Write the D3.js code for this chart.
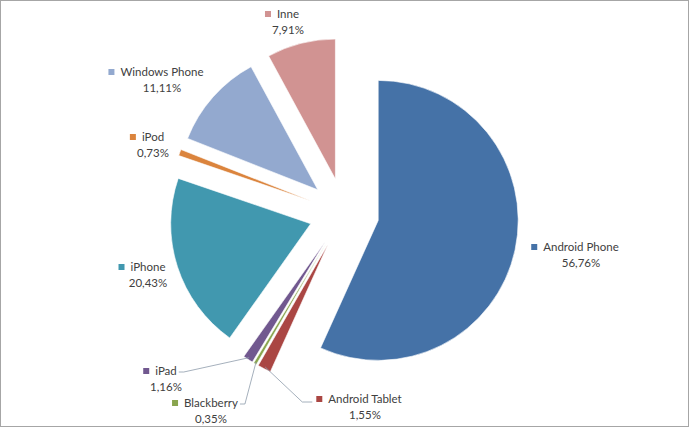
<!DOCTYPE html>
<html>
<head>
<meta charset="utf-8">
<script src="https://cdn.jsdelivr.net/npm/d3@7"></script>
<style>
  body { margin: 0; background: #fff; }
  svg { display: block; }
  text { font-family: Lato, "Open Sans", sans-serif; font-size: 11.5px; fill: #404040; }
</style>
</head>
<body>
<div id="chart"></div>
<script>
const categories = ["Android Phone", "Android Tablet", "Blackberry", "iPad", "iPhone", "iPod", "Windows Phone", "Inne"];
const values = [56.76, 1.55, 0.35, 1.16, 20.43, 0.73, 11.11, 7.91];
const percentLabels = ["56,76%", "1,55%", "0,35%", "1,16%", "20,43%", "0,73%", "11,11%", "7,91%"];
const colors = ["#4572A7", "#AA4643", "#89A54E", "#71588F", "#4198AF", "#DB843D", "#93A9CF", "#D19392"];

// where each label block sits (centre x, y of the name line) and which ones get a leader line
const labelLayout = {
    "Android Phone": { x: 581, y: 247 },
    "Android Tablet": { x: 365, y: 399, leader: "left" },
    "Blackberry": { x: 211, y: 403, leader: "right" },
    "iPad": { x: 166, y: 371, leader: "right" },
    "iPhone": { x: 148, y: 267 },
    "iPod": { x: 153, y: 137 },
    "Windows Phone": { x: 162, y: 72 },
    "Inne": { x: 288, y: 14 }
};

const width = 690, height = 428;
const cx = 344, cy = 213, radius = 140, explode = 35;

const svg = d3.select("#chart").append("svg")
    .attr("width", width)
    .attr("height", height);

svg.append("rect")
    .attr("x", 0.5).attr("y", 0.5)
    .attr("width", 688).attr("height", 426)
    .attr("fill", "#fff")
    .attr("stroke", "#a6a6a6");

const data = categories.map((c, i) => ({ name: c, value: values[i], label: percentLabels[i], color: colors[i] }));

const pie = d3.pie().value(d => d.value).sort(null);
const arc = d3.arc().innerRadius(0).outerRadius(radius);
const arcs = pie(data);

function offset(d, dist) {
    const a = (d.startAngle + d.endAngle) / 2;
    return [Math.sin(a) * dist, -Math.cos(a) * dist];
}

const g = svg.append("g").attr("transform", `translate(${cx},${cy})`);

g.selectAll("path.slice")
    .data(arcs)
    .enter().append("path")
    .attr("class", "slice")
    .attr("d", arc)
    .attr("fill", d => d.data.color)
    .attr("stroke", "#fff")
    .attr("stroke-width", 0.6)
    .attr("transform", d => `translate(${offset(d, explode)})`);

// labels
const labels = svg.append("g");
arcs.forEach(d => {
    const lay = labelLayout[d.data.name];
    const lg = labels.append("g");
    const name = lg.append("text")
        .attr("x", lay.x).attr("y", lay.y)
        .attr("dy", "0.35em")
        .attr("text-anchor", "middle")
        .text(d.data.name);
    lg.append("text")
        .attr("x", lay.x).attr("y", lay.y + 16)
        .attr("dy", "0.35em")
        .attr("text-anchor", "middle")
        .text(d.data.label);
    const w = name.node().getComputedTextLength();
    const left = lay.x - w / 2;
    lg.append("rect")
        .attr("x", left - 12).attr("y", lay.y - 3)
        .attr("width", 6).attr("height", 6)
        .attr("fill", d.data.color);

    if (lay.leader) {
        const o = offset(d, explode + radius - 2);
        const start = [cx + o[0], cy + o[1]];
        let end, elbow;
        if (lay.leader === "right") {
            end = [left + w + 2, lay.y + 1];
            elbow = [end[0] + 5, end[1]];
        } else {
            end = [left - 16, lay.y + 3];
            elbow = [end[0] - 10, end[1]];
        }
        svg.append("path")
            .attr("d", d3.line()([start, elbow, end]))
            .attr("fill", "none")
            .attr("stroke", "#8e9cab")
            .attr("stroke-width", 0.8);
    }
});
</script>
</body>
</html>
